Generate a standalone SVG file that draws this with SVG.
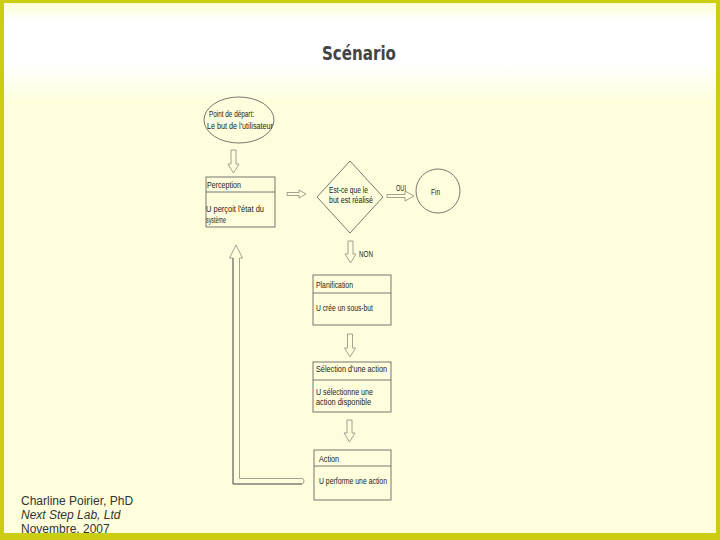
<svg xmlns="http://www.w3.org/2000/svg" width="720" height="540" viewBox="0 0 720 540">
<defs>
<linearGradient id="band" x1="0" y1="0" x2="0" y2="1">
<stop offset="0" stop-color="#fdfdd4"/>
<stop offset="0.18" stop-color="#ffffff"/>
<stop offset="0.6" stop-color="#ffffff"/>
<stop offset="1" stop-color="#fefedc"/>
</linearGradient>
<style>
.t{font-family:"Liberation Sans",Arial,sans-serif;font-size:9px;fill:#222;}
.box{fill:none;stroke:#555;stroke-width:0.8;}
.arr{fill:#fefedc;stroke:#8c8c80;stroke-width:0.8;stroke-linejoin:miter;}
.foot{font-family:"Liberation Sans",Arial,sans-serif;font-size:12px;fill:#333;}
</style>
</defs>
<rect x="0" y="0" width="720" height="540" fill="#fefedc"/>
<rect x="4" y="3" width="712" height="100" fill="url(#band)"/>
<text x="359" y="60" text-anchor="middle" font-family="'DejaVu Sans Condensed','DejaVu Sans',sans-serif" font-weight="bold" font-size="20" fill="#444" textLength="74" lengthAdjust="spacingAndGlyphs">Scénario</text>

<g id="connectors">
<path class="arr" d="M231,150 H236 V164 H239 L233.5,173 L228,164 H231 Z"/>
<path class="arr" d="M287,192.5 H299 V190 L306,194 L299,198 V195.5 H287 Z"/>
<path class="arr" d="M387,194.5 H405 V191 L414,196 L405,201 V197.5 H387 Z"/>
<path class="arr" d="M348,241 H353 V254 H356 L350.5,263 L345,254 H348 Z"/>
<path class="arr" d="M347.5,334 H352.5 V348 H355.5 L350,357 L344.5,348 H347.5 Z"/>
<path class="arr" d="M347,420 H352 V433 H355 L349.5,442 L344,433 H347 Z"/>
<path class="arr" d="M236,245 L242.5,258 H239.5 V478.5 H302 Q304,478.5 304,481 Q304,484 302,484 H233 V258 H229.5 Z"/>
<path d="M233,258 V484 H302" fill="none" stroke="#555" stroke-width="0.8"/>
<text class="t" x="396" y="191" textLength="10" lengthAdjust="spacingAndGlyphs">OUI</text>
<text class="t" x="359" y="257" textLength="14" lengthAdjust="spacingAndGlyphs">NON</text>
</g>

<g id="start">
<ellipse class="box" cx="239" cy="120" rx="35" ry="23"/>
<text class="t" x="209" y="117" textLength="45" lengthAdjust="spacingAndGlyphs">Point de départ:</text>
<text class="t" x="207" y="129" textLength="66" lengthAdjust="spacingAndGlyphs">Le but de l'utilisateur</text>
</g>

<g id="perception">
<rect class="box" x="206" y="177" width="69" height="50"/>
<line class="box" x1="206" y1="192" x2="275" y2="192"/>
<text class="t" x="207" y="188" textLength="34" lengthAdjust="spacingAndGlyphs">Perception</text>
<text class="t" x="206" y="212" textLength="58" lengthAdjust="spacingAndGlyphs">U perçoit l'état du</text>
<text class="t" x="206" y="223" textLength="20" lengthAdjust="spacingAndGlyphs">système</text>
</g>

<g id="decision">
<polygon class="box" points="350,161 383,197 350,233 317,197"/>
<text class="t" x="329" y="193" textLength="39" lengthAdjust="spacingAndGlyphs">Est-ce que le</text>
<text class="t" x="329" y="203" textLength="44" lengthAdjust="spacingAndGlyphs">but est réalisé</text>
</g>

<g id="fin">
<circle class="box" cx="438" cy="191" r="22"/>
<text class="t" x="431" y="195" textLength="9" lengthAdjust="spacingAndGlyphs">Fin</text>
</g>

<g id="planification">
<rect class="box" x="313" y="275" width="78" height="50"/>
<line class="box" x1="313" y1="293" x2="391" y2="293"/>
<text class="t" x="316" y="288" textLength="37" lengthAdjust="spacingAndGlyphs">Planification</text>
<text class="t" x="316" y="311" textLength="57" lengthAdjust="spacingAndGlyphs">U crée un sous-but</text>
</g>

<g id="selection">
<rect class="box" x="313" y="362" width="78" height="50"/>
<line class="box" x1="313" y1="380" x2="391" y2="380"/>
<text class="t" x="316" y="372" textLength="71" lengthAdjust="spacingAndGlyphs">Sélection d'une action</text>
<text class="t" x="316" y="395" textLength="57" lengthAdjust="spacingAndGlyphs">U sélectionne une</text>
<text class="t" x="316" y="405" textLength="55" lengthAdjust="spacingAndGlyphs">action disponible</text>
</g>

<g id="action">
<rect class="box" x="314" y="450" width="77" height="50"/>
<line class="box" x1="314" y1="466" x2="391" y2="466"/>
<text class="t" x="319" y="462" textLength="20" lengthAdjust="spacingAndGlyphs">Action</text>
<text class="t" x="319" y="484" textLength="68" lengthAdjust="spacingAndGlyphs">U performe une action</text>
</g>

<text class="foot" x="21" y="505">Charline Poirier, PhD</text>
<text class="foot" x="21" y="519" font-style="italic">Next Step Lab, Ltd</text>
<text class="foot" x="21" y="533">Novembre, 2007</text>

<rect x="0" y="0" width="4" height="540" fill="#cccc10"/>
<rect x="716" y="0" width="4" height="540" fill="#cccc10"/>
<rect x="0" y="0" width="720" height="3" fill="#cccc10"/>
<rect x="0" y="533" width="720" height="7" fill="#cccc10"/>
</svg>
